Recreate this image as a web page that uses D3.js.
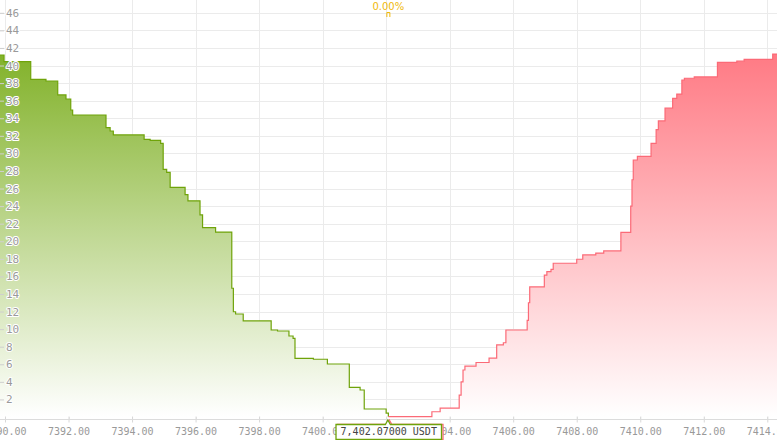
<!DOCTYPE html>
<html>
<head>
<meta charset="utf-8">
<script src="https://cdn.jsdelivr.net/npm/d3@7"></script>
<style>
  html, body { margin: 0; padding: 0; background: #ffffff; }
  svg { display: block; }
</style>
</head>
<body>
<svg id="chart" width="777" height="440"></svg>
<script>
// ---- data ----
const bidPrices = [7389.84, 7389.97, 7390.81, 7391.29, 7391.66, 7391.92, 7392.07, 7392.13, 7393.18, 7393.31,
  7393.41, 7394.38, 7394.57, 7394.90, 7394.98, 7395.09, 7395.20, 7395.67, 7395.76, 7396.14,
  7396.22, 7396.63, 7397.14, 7397.19, 7397.26, 7397.50, 7398.38, 7398.58, 7398.94, 7399.07,
  7399.13, 7399.71, 7400.15, 7400.84, 7401.18, 7401.31, 7402.00, 7402.07];
const bidDepth = [41.2, 40.45, 38.43, 38.24, 36.65, 36.19, 34.94, 34.37, 32.93, 32.55,
  32.1, 31.6, 31.49, 31.15, 28.19, 27.85, 26.14, 25.3, 24.6, 23.0,
  21.55, 21.04, 14.65, 11.98, 11.72, 10.93, 9.9, 9.79, 9.22, 8.95,
  6.68, 6.57, 6.03, 3.38, 3.07, 0.91, 0.45, 0.03];

const askPrices = [7402.07, 7403.44, 7403.70, 7404.30, 7404.36, 7404.42, 7404.48, 7404.83, 7405.24, 7405.48,
  7405.69, 7405.77, 7406.44, 7406.48, 7406.52, 7406.98, 7407.06, 7407.19, 7407.26, 7408.00,
  7408.19, 7408.60, 7408.85, 7409.39, 7409.70, 7409.74, 7409.78, 7409.91, 7410.34, 7410.50,
  7410.57, 7410.78, 7411.02, 7411.15, 7411.31, 7411.39, 7411.70, 7412.43, 7413.04, 7413.27,
  7414.17, 7414.31];
const askDepth = [0.05, 0.6, 1.0, 2.5, 4.0, 5.35, 5.8, 6.2, 6.7, 8.2,
  8.45, 9.9, 11.0, 13.0, 14.8, 16.15, 16.55, 16.8, 17.5, 17.95,
  18.45, 18.65, 18.9, 21.0, 24.0, 27.0, 29.25, 29.65, 31.15, 32.7,
  33.7, 35.15, 36.25, 36.75, 38.35, 38.55, 38.7, 40.35, 40.5, 40.7,
  41.3, 41.3];

const xTicks = [7390, 7392, 7394, 7396, 7398, 7400, 7402, 7404, 7406, 7408, 7410, 7412, 7414];
const yTicks = [2, 4, 6, 8, 10, 12, 14, 16, 18, 20, 22, 24, 26, 28, 30, 32, 34, 36, 38, 40, 42, 44, 46];
const midPrice = 7402.07;
const midLabel = "7,402.07000 USDT";
const spreadLabel = "0.00%";

// ---- chart ----
const W = 777, H = 440;
const svg = d3.select("#chart");
const x = d3.scaleLinear().domain([7390, 7414]).range([5, 767.3]);
const y = d3.scaleLinear().domain([0, 46]).range([417, 12.8]);
const axisY = 419.5;

const defs = svg.append("defs");
function grad(id, top) {
  const g = defs.append("linearGradient").attr("id", id)
    .attr("x1", 0).attr("y1", 0).attr("x2", 0).attr("y2", 1);
  g.append("stop").attr("offset", "0%").attr("stop-color", top);
  g.append("stop").attr("offset", "100%").attr("stop-color", "#ffffff");
}
grad("gBid", "#82b22a");
grad("gAsk", "#ff7a84");

// grid
const grid = svg.append("g");
grid.selectAll("line.v").data(xTicks).join("line")
  .attr("x1", d => Math.round(x(d)) + 0.5).attr("x2", d => Math.round(x(d)) + 0.5)
  .attr("y1", 0).attr("y2", axisY)
  .attr("stroke", "#ebebeb").attr("stroke-width", 1);
grid.selectAll("line.h").data(yTicks).join("line")
  .attr("x1", 0).attr("x2", W)
  .attr("y1", d => Math.round(y(d)) + 0.5).attr("y2", d => Math.round(y(d)) + 0.5)
  .attr("stroke", "#ebebeb").attr("stroke-width", 1);

const bids = bidPrices.map((p, i) => [p, bidDepth[i]]);
const asks = askPrices.map((p, i) => [p, askDepth[i]]);

const area = d3.area().curve(d3.curveStepAfter)
  .x(d => x(d[0])).y0(y(0)).y1(d => y(d[1]));
const line = d3.line().curve(d3.curveStepAfter)
  .x(d => x(d[0])).y(d => y(d[1]));

svg.append("path").datum(bids).attr("d", area).attr("fill", "url(#gBid)");
svg.append("path").datum(asks).attr("d", area).attr("fill", "url(#gAsk)");
svg.append("path").datum(bids).attr("d", line).attr("fill", "none")
  .attr("stroke", "#6fa30a").attr("stroke-width", 1.2);
svg.append("path").datum(asks).attr("d", line).attr("fill", "none")
  .attr("stroke", "#fb6a77").attr("stroke-width", 1.2);

// x axis
const xAxis = d3.axisBottom(x).tickValues(xTicks).tickSize(0).tickFormat(d => d3.format(".2f")(d));
const gx = svg.append("g").attr("transform", `translate(0,${axisY})`).call(xAxis);
gx.select(".domain").remove();
gx.append("line").attr("x1", 0).attr("x2", W).attr("y1", 0).attr("y2", 0).attr("stroke", "#dcdcdc");
gx.selectAll(".tick").append("line").attr("y1", -3).attr("y2", 3).attr("stroke", "#d8d8d8");
gx.selectAll(".tick text")
  .attr("y", 15).attr("dy", 0)
  .attr("fill", "#999").attr("font-family", "DejaVu Sans Mono, monospace").attr("font-size", 10);

// y axis (inside)
const yAxis = d3.axisRight(y).tickValues(yTicks).tickSize(4).tickPadding(2);
const gy = svg.append("g").attr("transform", "translate(0,0)").call(yAxis);
gy.select(".domain").remove();
gy.selectAll(".tick line").attr("stroke", "#cfcfcf");
gy.selectAll(".tick text")
  .attr("fill", "#9a9a9a").attr("font-family", "DejaVu Sans Mono, monospace").attr("font-size", 11)
  .attr("stroke", "#ffffff").attr("stroke-width", 2).attr("paint-order", "stroke")
  .attr("stroke-linejoin", "round");

// spread label
const mx = x(midPrice);
svg.append("text").attr("x", mx).attr("y", 9.5).attr("text-anchor", "middle")
  .attr("font-family", "DejaVu Sans, sans-serif").attr("font-size", 10)
  .attr("fill", "#f0b90b").text(spreadLabel);
svg.append("path").attr("d", `M${mx - 1.5},17 V12.5 H${mx + 1.5} V17`)
  .attr("fill", "none").attr("stroke", "#f0b90b").attr("stroke-width", 1);

// mid-price labels (ask behind, bid in front)
const bx = 336, by = 424.5, bw = 105.5, bh = 15;
function tip(dx, color) {
  const g = svg.append("g").attr("transform", `translate(${dx},0)`);
  g.append("path")
    .attr("d", `M${bx},${by} H${mx - 3} L${mx - 0.5},${by - 4.5} L${mx + 2},${by} H${bx + bw} V${by + bh} H${bx} Z`)
    .attr("fill", "#ffffff").attr("stroke", color).attr("stroke-width", 1.3);
  return g;
}
tip(1.5, "#fb6a77");
const gt = tip(0, "#6fa30a");
gt.append("text").attr("x", bx + bw / 2).attr("y", 435).attr("text-anchor", "middle")
  .attr("font-family", "DejaVu Sans Mono, monospace").attr("font-size", 10)
  .attr("fill", "#444").text(midLabel);
</script>
</body>
</html>
